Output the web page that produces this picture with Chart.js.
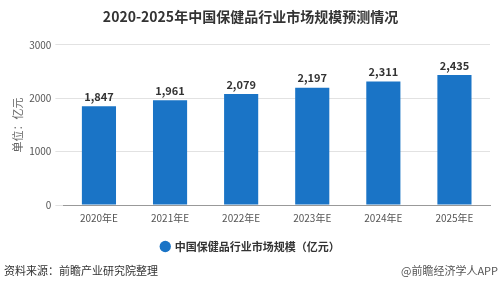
<!DOCTYPE html>
<html>
<head>
<meta charset="utf-8">
<script src="https://cdn.jsdelivr.net/npm/chart.js@4.4.0/dist/chart.umd.min.js"></script>
<style>
  html, body { margin: 0; padding: 0; background: #fff; }
  #wrap { width: 500px; height: 289px; position: relative; }
</style>
</head>
<body>
<div id="wrap"><canvas id="marketChart"></canvas></div>
<script>
  // data
  var years = ['2020年E', '2021年E', '2022年E', '2023年E', '2024年E', '2025年E'];
  var marketSize = [1847, 1961, 2079, 2197, 2311, 2435];
  var yTicks = [0, 1000, 2000, 3000];
  var seriesName = '中国保健品行业市场规模（亿元）';

  var cjk = '"Noto Sans CJK SC", "Noto Sans", sans-serif';

  // value labels over the bars
  var barLabels = {
    id: 'barLabels',
    afterDatasetsDraw: function(chart) {
      var ctx = chart.ctx;
      var meta = chart.getDatasetMeta(0);
      ctx.save();
      ctx.font = 'bold 11px ' + cjk;
      ctx.fillStyle = '#333';
      ctx.textAlign = 'center';
      ctx.textBaseline = 'bottom';
      meta.data.forEach(function(bar, i) {
        ctx.fillText(marketSize[i].toLocaleString('en-US'), bar.x, bar.y - 4);
      });
      ctx.restore();
    }
  };

  // source line at the bottom
  var footer = {
    id: 'footer',
    afterDraw: function(chart) {
      var ctx = chart.ctx;
      ctx.save();
      ctx.font = '11px ' + cjk;
      ctx.fillStyle = '#333';
      ctx.textBaseline = 'middle';
      ctx.textAlign = 'left';
      ctx.fillText('资料来源：前瞻产业研究院整理', 4, 271);
      ctx.textAlign = 'right';
      ctx.fillStyle = '#555';
      ctx.fillText('@前瞻经济学人APP', 498, 271);
      ctx.restore();
    }
  };

  var ctx = document.getElementById('marketChart').getContext('2d');
  var marketChart = new Chart(ctx, {
    type: 'bar',
    data: {
      labels: years,
      datasets: [{
        label: seriesName,
        data: marketSize,
        backgroundColor: '#1a74c6',
        categoryPercentage: 1.0,
        barPercentage: 0.48
      }]
    },
    options: {
      responsive: true,
      maintainAspectRatio: false,
      animation: false,
      layout: { padding: { left: 11, right: 10, top: 0, bottom: 27 } },
      plugins: {
        title: {
          display: true,
          text: '2020-2025年中国保健品行业市场规模预测情况',
          color: '#333',
          font: { family: cjk, size: 14, weight: 'bold' },
          padding: { top: 8, bottom: 20 }
        },
        legend: {
          position: 'bottom',
          labels: {
            usePointStyle: true,
            pointStyle: 'circle',
            boxWidth: 8,
            boxHeight: 8,
            color: '#333',
            font: { family: cjk, size: 11, weight: 'bold' },
            padding: 15
          }
        },
        tooltip: { enabled: false }
      },
      scales: {
        x: {
          grid: { display: false, drawTicks: true, tickLength: 5 },
          border: { color: '#999' },
          ticks: { color: '#555', font: { family: cjk, size: 10 }, padding: 2 }
        },
        y: {
          min: 0,
          max: 3000,
          afterBuildTicks: function(axis) {
            axis.ticks = yTicks.map(function(v) { return { value: v }; });
          },
          grid: { color: '#e2e2e2', tickLength: 8 },
          border: { display: false },
          ticks: {
            color: '#555',
            font: { family: cjk, size: 10 },
            padding: 4,
            callback: function(value) { return String(value); }
          },
          title: {
            display: true,
            text: '单位：亿元',
            color: '#666',
            font: { family: cjk, size: 11 },
            padding: { top: 0, bottom: 1 }
          }
        }
      }
    },
    plugins: [barLabels, footer]
  });
</script>
</body>
</html>
